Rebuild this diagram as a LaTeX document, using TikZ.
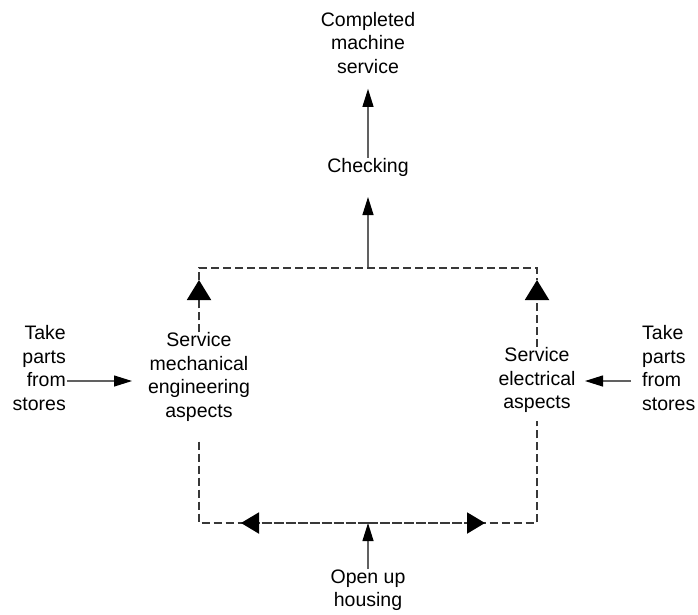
\documentclass[tikz,border=0pt]{standalone}
\usepackage{fontspec}
\setmainfont{Liberation Sans}
\usetikzlibrary{arrows.meta,calc}
\begin{document}
\begin{tikzpicture}[x=1pt,y=-1pt,
  lbl/.style={font=\fontsize{19.5}{23.5}\selectfont, align=center, inner sep=0pt},
  sol/.style={draw=black!62, line width=1.2pt, -{Triangle[width=11pt,length=18pt,color=black]}},
  dl/.style={draw=black!78, line width=2pt, dash pattern=on 8pt off 4pt},
  dtip/.style={dl, -{Triangle[width=24pt,length=20pt,color=black]}},
  htip/.style={dl, -{Triangle[width=21pt,length=18pt,color=black]}}]
\useasboundingbox (0,0) rectangle (698,614);
% nodes
\node[lbl] (done) at (368,43) {Completed\\machine\\service};
\node[lbl] (check) at (368,167) {Checking};
\node[lbl] (mech) at (199,377) {Service\\mechanical\\engineering\\aspects};
\node[lbl] (elec) at (537,380) {Service\\electrical\\aspects};
\node[lbl, align=right, anchor=east] (stL) at (66,368) {Take\\parts\\from\\stores};
\node[lbl, align=left, anchor=west] (stR) at (642,368) {Take\\parts\\from\\stores};
\node[lbl] (open) at (368,590) {Open up\\housing};
% coordinates
\coordinate (tl) at (199,268);
\coordinate (tr) at (537,268);
\coordinate (tm) at (368,268);
\coordinate (bl) at (199,523);
\coordinate (br) at (537,523);
\coordinate (bm) at (368,523);
\coordinate (tipC) at (368,197);
\coordinate (tipTL) at (199,280);
\coordinate (tipTR) at (537,280);
\coordinate (tipBL) at (241,523);
\coordinate (tipBR) at (485,523);
\coordinate (la) at (67,381);
\coordinate (lb) at (132,381);
\coordinate (ra) at (631,381);
\coordinate (rb) at (585,381);
% connectors
\draw[sol, shorten >=15pt] (check.north) -- (done.south);
\draw[sol] (tm) -- (tipC);
\draw[sol] (open.north) -- (bm);
\draw[sol] (la) -- (lb);
\draw[sol] (ra) -- (rb);
\draw[dl] (tipTL) -- (tl) -- (tr) -- (tipTR);
\draw[dtip] (mech.north) -- (tipTL);
\draw[dtip] (elec.north) -- (tipTR);
\draw[dl, shorten <=20pt, shorten >=8pt] (mech.south) -- (bl) -- (br) -- (elec.south);
\draw[htip] (bm) -- (tipBL);
\draw[htip] (bm) -- (tipBR);
\end{tikzpicture}
\end{document}
